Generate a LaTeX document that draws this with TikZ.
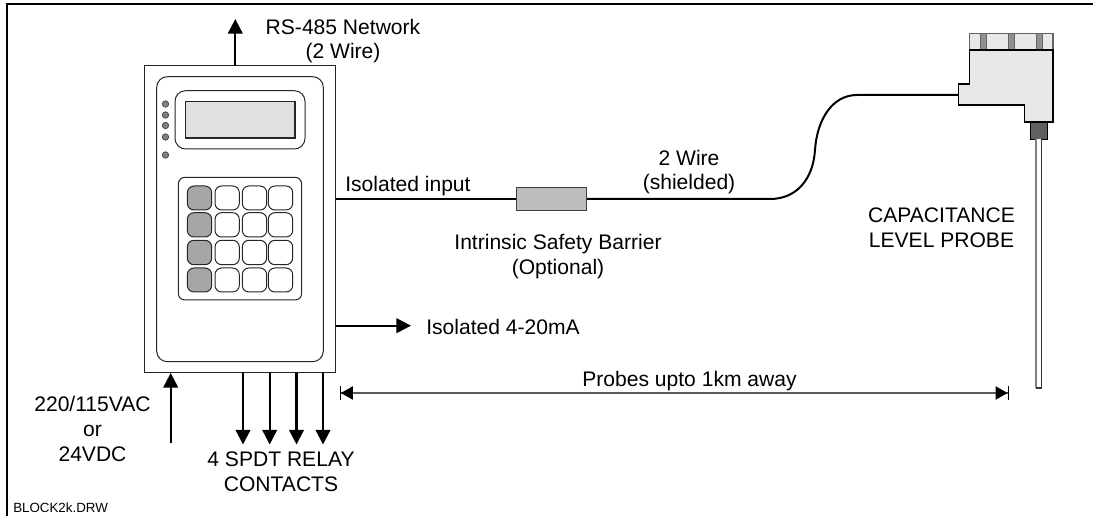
\documentclass[tikz,border=0pt]{standalone}
\usepackage{fontspec}
\setmainfont{Liberation Sans}
\usetikzlibrary{arrows.meta}
\definecolor{led}{HTML}{808080}
\definecolor{lcd}{HTML}{E0E0E0}
\definecolor{fnkey}{HTML}{A6A6A6}
\definecolor{barrier}{HTML}{BDBDBD}
\definecolor{probebody}{HTML}{E8E8E8}
\definecolor{stripe}{HTML}{909090}
\definecolor{stem}{HTML}{606060}
\tikzset{
  x=0.75pt,y=-0.75pt,
  lbl/.style={font=\fontsize{15.8}{18.4}\selectfont,align=center,inner sep=0pt,text=black},
  thin box/.style={draw=black!85,line width=0.75pt},
  keybtn/.style={thin box,rounded corners=5pt,fill=white},
  fnbtn/.style={thin box,rounded corners=5pt,fill=fnkey},
  power/.style={line width=1.6pt,-{Triangle[length=11pt,width=11pt]}},
  wire/.style={line width=1.5pt,draw=black},
  dim/.style={line width=0.9pt,draw=black!65,{Bar[width=10pt,line width=0.7pt,black]Triangle[length=9pt,width=10pt,black,sep=0pt]}-{Triangle[length=9pt,width=10pt,black]Bar[width=10pt,line width=0.7pt,black]}}
}
\begin{document}
\begin{tikzpicture}
\useasboundingbox (0,0) rectangle (1093,516);
% frame
\coordinate (fa) at (6.5,516);
\coordinate (fb) at (6.5,4.5);
\coordinate (fc) at (1093,4.5);
\draw[line width=1.5pt,black] (fa) -- (fb) -- (fc);
% unit
\node[thin box,minimum width=143.5pt,minimum height=230pt,inner sep=0pt] (unit) at (240,219.3) {};
\draw[thin box,rounded corners=8pt] (156.7,76.7) rectangle (323.3,361.7);
\draw[thin box,rounded corners=8pt] (175,90.7) rectangle (305,149);
\draw[draw=black!85,line width=1pt,fill=lcd] (185.7,101.3) rectangle (295,138);
\foreach \ly in {104,115,125.5,137,155}
  \draw[draw=black!70,line width=0.6pt,fill=led] (165.5,\ly) circle (3.2);
\draw[thin box,rounded corners=5pt] (178.3,177.3) rectangle (301.7,300);
\foreach \ya/\yb in {186/210,212.7/237,240.3/264.7,268/292}{
  \draw[fnbtn] (187.3,\ya) rectangle (211.7,\yb);
  \draw[keybtn] (215,\ya) rectangle (239.3,\yb);
  \draw[keybtn] (242.3,\ya) rectangle (266.7,\yb);
  \draw[keybtn] (268.3,\ya) rectangle (292.7,\yb);
}
% barrier
\node[draw=black!75,line width=0.75pt,fill=barrier,minimum width=52.5pt,minimum height=17.8pt,inner sep=0pt] (barr) at (551.7,199) {};
% probe
\draw[draw=black!60,line width=0.9pt,fill=probebody] (969.3,33.3) rectangle (1053,50);
\foreach \sx in {980,1008.5,1036}
  \fill[stripe,draw=black!60,line width=0.5pt] (\sx,33.3) rectangle (\sx+6,50);
\draw[line width=1pt,black,fill=probebody] (969.3,50) -- (1053,50) -- (1053,122) -- (1024.3,122) -- (1024.3,105) -- (958.3,105) -- (958.3,84) -- (969.3,84) -- cycle;
\coordinate (pin) at (958.3,95);
\node[draw=black,line width=0.9pt,fill=stem,minimum width=13pt,minimum height=13pt,inner sep=0pt] (stemn) at (1039,130.7) {};
\fill[white] (1035.7,139.3) rectangle (1041.6,388);
\draw[draw=black!50,line width=1.3pt] (1035.7,139.3) -- (1035.7,388);
\draw[draw=black!80,line width=0.8pt] (1041.6,139.3) -- (1041.6,388) -- (1035.7,388);
% wires
\coordinate (ia) at (335.7,199);
\draw[wire] (ia) -- (barr.west);
\draw[wire] (barr.east) -- (770,199) .. controls (796,199) and (813,180) .. (815,150) .. controls (817,120) and (832,95) .. (857,95) -- (pin);
% arrows
\coordinate (rsend) at (235.3,19);
\coordinate (rsstart) at (235.3,66);
\draw[power] (rsstart) -- (rsend);
\coordinate (ma0) at (335.7,325.7);
\coordinate (ma1) at (411,325.7);
\draw[power] (ma0) -- (ma1);
\coordinate (pw0) at (170.7,443.5);
\coordinate (pw1) at (170.7,373);
\draw[power] (pw0) -- (pw1);
\foreach \rx/\rn in {243/a,269.7/b,296.5/c,323/d}{
  \coordinate (r\rn0) at (\rx,373);
  \coordinate (r\rn1) at (\rx,444.5);
  \draw[power] (r\rn0) -- (r\rn1);
}
\coordinate (dl) at (340,393);
\coordinate (dr) at (1008.5,393);
\draw[dim] (dl) -- (dr);
% labels
\node[lbl] (t1) at (343,41) {RS-485 Network\\(2 Wire)};
\node[lbl,anchor=west] (t2) at (345,186) {Isolated input};
\node[lbl] (t3) at (689,172) {2 Wire\\(shielded)};
\node[lbl] (t4) at (558,256.5) {Intrinsic Safety Barrier\\(Optional)};
\node[lbl] (t5) at (941.5,228) {CAPACITANCE\\LEVEL PROBE};
\node[lbl,anchor=west] (t6) at (426,327) {Isolated 4-20mA};
\node[lbl] (t7) at (689.5,381.5) {Probes upto 1km away};
\node[lbl] (t8) at (92.5,429) {220/115VAC\\or\\24VDC};
\node[lbl] (t9) at (281,471.5) {4 SPDT RELAY\\CONTACTS};
\node[font=\fontsize{10}{12}\selectfont,anchor=west,inner sep=0pt] (t10) at (13,508) {BLOCK2k.DRW};
\end{tikzpicture}
\end{document}
